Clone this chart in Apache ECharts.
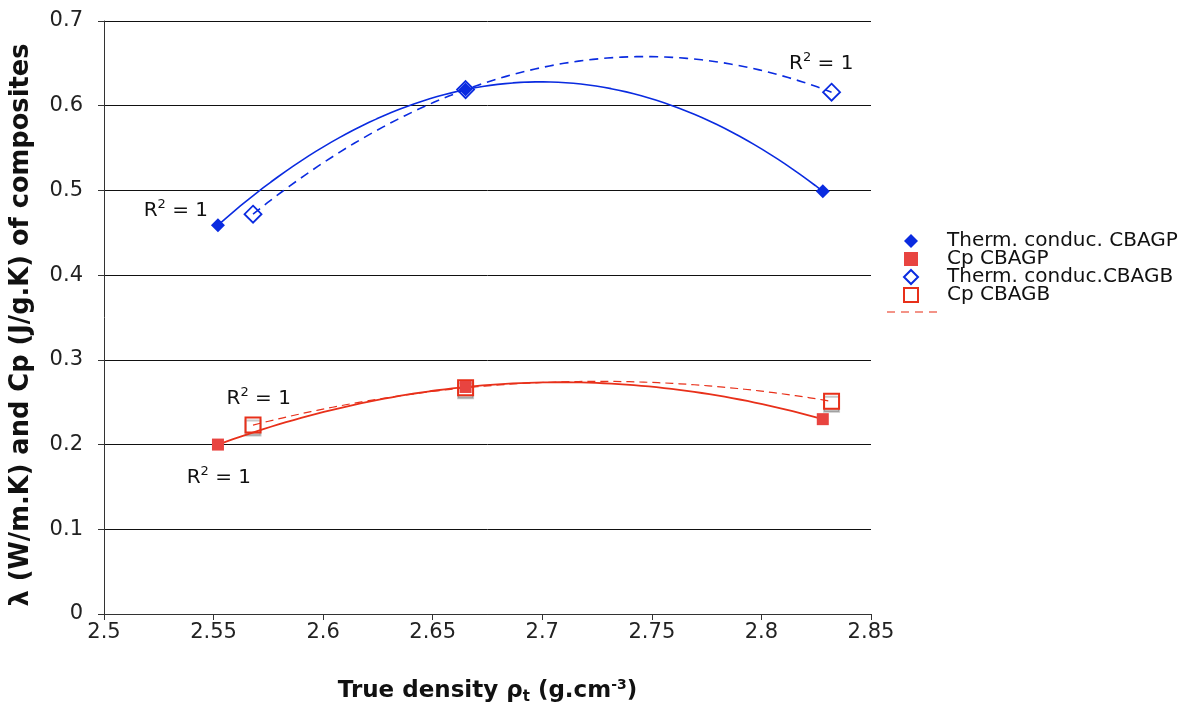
<!DOCTYPE html>
<html><head><meta charset="utf-8">
<script src="https://cdn.jsdelivr.net/npm/echarts@6/dist/echarts.min.js"></script>
<style>html,body{margin:0;padding:0;background:#fff}#c{width:1188px;height:711px}</style>
</head><body><div id="c"></div>
<script>
// ---- data ----
const densityCBAGP = [2.552, 2.665, 2.828];
const densityCBAGB = [2.568, 2.665, 2.832];
const thermCBAGP = [0.459, 0.619, 0.499];
const thermCBAGB = [0.472, 0.619, 0.616];
const cpCBAGP = [0.200, 0.268, 0.230];
const cpCBAGB = [0.223, 0.267, 0.251];
const seriesNames = ['Therm. conduc. CBAGP', 'Cp CBAGP', 'Therm. conduc.CBAGB', 'Cp CBAGB'];
// R² annotation anchors (data coords)
const r2X = [2.5328, 2.8273, 2.5706, 2.5524];
const r2Y = [0.4764, 0.6500, 0.2541, 0.1608];

const FONT = 'DejaVu Sans';
const BLUE = '#0a2be0', RED = '#e8301a', REDFILL = '#e84440';

function pts(xs, ys) { return xs.map((x, i) => [x, ys[i]]); }
// 2nd-order polynomial trendline (exact fit through 3 points, R² = 1)
function trend(xs, ys) {
  const n = 80, out = [];
  const [x0, x1, x2] = xs, [y0, y1, y2] = ys;
  for (let k = 0; k <= n; k++) {
    const x = x0 + (x2 - x0) * k / n;
    const y = y0 * (x - x1) * (x - x2) / ((x0 - x1) * (x0 - x2))
            + y1 * (x - x0) * (x - x2) / ((x1 - x0) * (x1 - x2))
            + y2 * (x - x0) * (x - x1) / ((x2 - x0) * (x2 - x1));
    out.push([x, y]);
  }
  return out;
}

const chart = echarts.init(document.getElementById('c'), null, { renderer: 'canvas' });
const lineCommon = { type: 'line', showSymbol: false, symbol: 'none', silent: true, z: 3, animation: false };
chart.setOption({
  backgroundColor: '#fff',
  animation: false,
  textStyle: { fontFamily: FONT },
  grid: { left: 103, right: 317, top: 21, bottom: 97 },
  xAxis: {
    type: 'value', min: 2.5, max: 2.85, interval: 0.05,
    name: '{b|True density ρ}{sub|t}{b| (g.cm}{sup|-3}{b|)}',
    nameLocation: 'middle', nameGap: 64,
    nameTextStyle: {
      rich: {
        b: { fontFamily: FONT, fontWeight: 'bold', fontSize: 23, color: '#111' },
        sub: { fontFamily: FONT, fontWeight: 'bold', fontSize: 15, color: '#111', padding: [12, 0, 0, 0] },
        sup: { fontFamily: FONT, fontWeight: 'bold', fontSize: 14, color: '#111', padding: [0, 0, 12, 0] }
      }
    },
    axisLine: { lineStyle: { color: '#333', width: 1 } },
    axisTick: { length: 6, lineStyle: { color: '#333' } },
    axisLabel: { fontSize: 21, color: '#222', margin: 8, fontFamily: FONT,
      formatter: v => String(+v.toFixed(2)) },
    splitLine: { show: false }
  },
  yAxis: {
    type: 'value', min: 0, max: 0.7, interval: 0.1,
    name: 'λ (W/m.K) and Cp (J/g.K) of composites',
    nameLocation: 'middle', nameGap: 70,
    nameTextStyle: { fontFamily: FONT, fontWeight: 'bold', fontSize: 25.7, color: '#111', padding: [0, 15, 0, 0] },
    axisLine: { show: true, lineStyle: { color: '#333', width: 1 } },
    axisTick: { show: true, length: 6, lineStyle: { color: '#333' } },
    axisLabel: { fontSize: 21, color: '#222', margin: 21, fontFamily: FONT,
      formatter: v => String(+v.toFixed(1)) },
    splitLine: { show: true, lineStyle: { color: '#111', width: 1 } }
  },
  legend: {
    orient: 'vertical', left: 898, top: 226,
    itemWidth: 14, itemHeight: 14, itemGap: -2,
    textStyle: { fontFamily: FONT, fontSize: 20, color: '#111', padding: [0, 0, 0, 24] },
    data: seriesNames
  },
  series: [
    Object.assign({}, lineCommon, { name: 'trend1', data: trend(densityCBAGP, thermCBAGP),
      lineStyle: { color: BLUE, width: 1.6 } }),
    Object.assign({}, lineCommon, { name: 'trend2', data: trend(densityCBAGB, thermCBAGB),
      lineStyle: { color: BLUE, width: 1.6, type: [9, 6] } }),
    Object.assign({}, lineCommon, { name: 'trend3', data: trend(densityCBAGP, cpCBAGP),
      lineStyle: { color: RED, width: 1.8 } }),
    Object.assign({}, lineCommon, { name: 'trend4', data: trend(densityCBAGB, cpCBAGB),
      lineStyle: { color: RED, width: 1.2, type: [8, 5] } }),
    { name: seriesNames[0], type: 'scatter', data: pts(densityCBAGP, thermCBAGP),
      symbol: 'diamond', symbolSize: 14, itemStyle: { color: BLUE, opacity: 1 }, z: 4 },
    { name: seriesNames[1], type: 'scatter', data: pts(densityCBAGP, cpCBAGP),
      symbol: 'rect', symbolSize: 12, itemStyle: { color: REDFILL, opacity: 1 }, z: 4 },
    { name: seriesNames[2], type: 'scatter', data: pts(densityCBAGB, thermCBAGB),
      symbol: 'diamond', symbolSize: 17, itemStyle: { color: '#fff', borderColor: BLUE, borderWidth: 1.8, opacity: 1 }, z: 2 },
    { name: seriesNames[3], type: 'scatter', data: pts(densityCBAGB, cpCBAGB),
      symbol: 'rect', symbolSize: 15, itemStyle: { color: '#fff', borderColor: RED, borderWidth: 2, opacity: 1,
        shadowColor: 'rgba(0,0,0,0.22)', shadowOffsetY: 3, shadowBlur: 0 }, z: 2 }
  ]
});

// R² annotations, positioned from data coordinates
const graphics = r2X.map((x, i) => {
  const p = chart.convertToPixel({ gridIndex: 0 }, [x, r2Y[i]]);
  return {
    type: 'text', x: p[0], y: p[1], z: 10,
    style: {
      text: '{n|R}{s|2}{n| = 1}', align: 'center', verticalAlign: 'middle',
      rich: {
        n: { fontFamily: FONT, fontSize: 20, fill: '#111' },
        s: { fontFamily: FONT, fontSize: 13, fill: '#111', padding: [0, 0, 12, 0] }
      }
    }
  };
});
// legend entry of the trendline (dashed red stroke without text)
graphics.push({ type: 'line', shape: { x1: 887, y1: 312, x2: 943, y2: 312 }, z: 10,
  style: { stroke: '#f07060', lineWidth: 1.5, lineDash: [8, 6] } });
chart.setOption({ graphic: graphics });
</script></body></html>
